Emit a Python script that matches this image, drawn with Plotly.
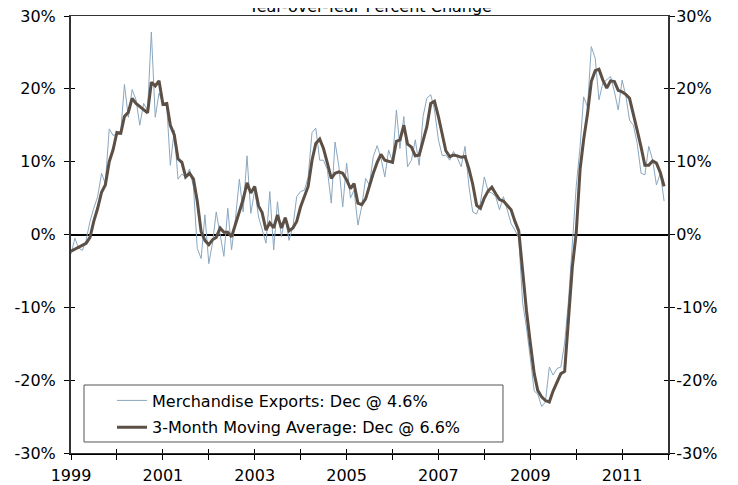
import plotly.graph_objects as go
import pandas as pd

RAW_COLOR = "#8aa7c0"
MA_COLOR = "#5c4f45"
AXIS_COLOR = "#000000"
FONT = "DejaVu Sans"

# meses: jan/1999 .. dez/2011
months = pd.date_range("1999-01-01", periods=156, freq="MS")

exports_yoy = [
    -2.7, -0.5, -1.8, -2.2, -0.8, 1.8, 3.6, 5.2, 8.4, 7.0, 14.5, 13.6,        # 1999
    13.8, 14.2, 20.6, 16.1, 19.9, 18.5, 15.0, 18.0, 17.0, 27.8, 16.1, 19.4,   # 2000
    18.0, 17.6, 9.5, 14.3, 7.6, 8.3, 7.8, 9.0, 6.5, -1.9, -3.3, 2.7,          # 2001
    -4.0, -1.0, 3.1, -0.3, -3.0, 3.6, -2.1, 2.2, 7.6, 3.1, 10.8, 2.9,         # 2002
    6.1, 2.4, 0.6, -1.2, 5.9, -2.1, 4.5, -0.3, 2.4, -0.8, 1.1, 5.2,           # 2003
    5.9, 6.1, 7.9, 14.0, 14.6, 10.2, 10.2, 8.9, 4.3, 12.7, 9.3, 3.8,          # 2004
    9.8, 5.0, 6.1, 1.3, 3.8, 7.7, 6.8, 10.7, 12.2, 10.5, 7.9, 11.6,           # 2005
    10.0, 17.1, 11.8, 16.2, 9.3, 10.2, 13.0, 9.5, 16.2, 18.7, 19.2, 17.1,     # 2006
    13.0, 10.8, 10.9, 10.2, 11.4, 10.5, 9.3, 12.1, 6.6, 3.1, 2.8, 4.3,        # 2007
    7.9, 5.9, 5.7, 5.2, 3.4, 5.2, 3.4, 1.5, 0.6, -0.5, -9.4, -12.7,           # 2008
    -17.0, -21.5, -21.9, -23.6, -23.0, -18.2, -19.3, -18.4, -18.2, -14.9, -9.0, -2.0,  # 2009
    6.6, 12.1, 18.9, 17.5, 25.8, 24.2, 18.5, 20.8, 21.2, 21.7, 19.6, 17.1,    # 2010
    21.2, 18.9, 15.7, 15.0, 12.5, 8.4, 8.2, 12.1, 10.2, 6.8, 8.4, 4.6,        # 2011
]

moving_avg_3m = [
    -2.3, -2.0, -1.7, -1.5, -1.2, -0.4, 1.8, 3.6, 5.8, 6.8, 10.0, 11.6,
    14.0, 13.9, 16.2, 16.8, 18.7, 18.0, 17.6, 17.2, 16.7, 20.9, 20.4, 21.1,
    17.9, 18.0, 15.0, 13.7, 10.4, 9.9, 7.9, 8.4, 7.6, 4.6, 0.4, -0.8,
    -1.4, -0.7, -0.4, 0.9, 0.3, 0.3, -0.3, 1.4, 3.0, 4.8, 7.1, 5.7,
    6.6, 3.9, 3.0, 0.6, 1.6, 0.9, 2.7, 0.9, 2.3, 0.5, 0.9, 1.8,
    3.8, 5.2, 6.6, 10.2, 12.5, 13.1, 11.8, 9.8, 7.7, 8.4, 8.6, 8.4,
    7.5, 6.3, 7.0, 4.3, 4.1, 4.9, 6.8, 8.4, 9.9, 11.0, 10.2, 10.0,
    9.9, 12.8, 13.0, 15.0, 12.4, 12.0, 10.8, 10.9, 12.9, 14.8, 18.0, 18.3,
    16.2, 13.5, 11.5, 10.7, 10.9, 10.8, 10.6, 10.7, 9.0, 6.9, 4.0, 3.6,
    5.0, 6.0, 6.5, 5.6, 4.8, 4.6, 4.0, 3.4, 1.8, 0.5, -5.0, -10.4,
    -14.9, -19.1, -21.4, -22.3, -22.8, -23.0, -21.5, -20.2, -19.1, -18.8, -11.0, -4.5,
    0.2, 9.0, 13.0, 16.6, 21.0, 22.5, 22.7, 21.2, 20.1, 21.1, 21.0, 19.8,
    19.6, 19.2, 18.7, 16.6, 14.3, 12.0, 9.5, 9.5, 10.1, 9.8, 8.5, 6.6,
]

year_ticks = [f"{y}-01-01" for y in range(1999, 2013)]
year_labels = [str(y) if y % 2 == 1 and y < 2012 else "" for y in range(1999, 2013)]
pct_ticks = [-30, -20, -10, 0, 10, 20, 30]
pct_labels = ["-30%", "-20%", "-10%", "0%", "10%", "20%", "30%"]

fig = go.Figure()
# série mensal no par de eixos principal (esquerda / baixo)
fig.add_trace(go.Scatter(
    x=months, y=exports_yoy, mode="lines", xaxis="x", yaxis="y",
    line=dict(color=RAW_COLOR, width=1),
    name="Merchandise Exports: Dec @ 4.6%", legendgroup="a",
))
# média móvel no par secundário (direita) -> permite ticks cruzados
fig.add_trace(go.Scatter(
    x=months, y=moving_avg_3m, mode="lines", xaxis="x2", yaxis="y2",
    line=dict(color=MA_COLOR, width=3),
    name="3-Month Moving Average: Dec @ 6.6%", legendgroup="b",
))

x_range = ["1999-01-01", "2012-01-01"]
common_x = dict(type="date", range=x_range, tickvals=year_ticks, showgrid=False,
                zeroline=False, fixedrange=True, automargin=False,
                ticklabeloverflow="allow")
common_y = dict(range=[-30, 30], tickvals=pct_ticks, ticktext=pct_labels,
                showgrid=False, fixedrange=True, automargin=False,
                ticklabeloverflow="allow")

# a página tem margem de 8px no body: figura um pouco menor que a janela
fig.update_layout(
    width=730, height=477,
    paper_bgcolor="white", plot_bgcolor="white",
    font=dict(family=FONT, size=16, color="#000000"),
    margin=dict(l=63, r=70, t=8, b=32, autoexpand=False),
    showlegend=True,
    legend=dict(
        x=0.0687, xanchor="left", y=0.159, yanchor="top",
        bgcolor="rgba(0,0,0,0)", borderwidth=0,
        tracegroupgap=3, font=dict(size=16),
    ),
    xaxis=dict(
        **common_x, ticktext=year_labels,
        ticks="outside", ticklen=5, tickcolor=AXIS_COLOR, ticklabelstandoff=2,
        showline=True, linecolor=AXIS_COLOR, linewidth=1.5,
    ),
    xaxis2=dict(
        **common_x, overlaying="x", anchor="y2", side="bottom",
        ticks="inside", ticklen=4, tickcolor=AXIS_COLOR, showticklabels=False,
        showline=True, mirror=True, linecolor="#333333", linewidth=1,
    ),
    yaxis=dict(
        **common_y, side="left", anchor="x",
        ticks="outside", ticklen=5, tickcolor=AXIS_COLOR, ticklabelstandoff=5,
        showline=True, mirror="ticks", linecolor=AXIS_COLOR, linewidth=2,
        zeroline=True, zerolinecolor=AXIS_COLOR, zerolinewidth=1.5,
    ),
    yaxis2=dict(
        **common_y, overlaying="y", side="right", anchor="x2",
        ticks="inside", ticklen=4, tickcolor=AXIS_COLOR, ticklabelstandoff=3,
        showline=True, mirror="ticks", linecolor="#333333", linewidth=2,
        zeroline=False,
    ),
    shapes=[dict(
        type="rect", xref="paper", yref="paper",
        x0=0.0218, x1=0.7236, y0=0.0252, y1=0.1556,
        line=dict(color="#555555", width=1), fillcolor="rgba(0,0,0,0)",
    )],
    annotations=[dict(
        text="Year-over-Year Percent Change", xref="paper", yref="paper",
        x=0.5, y=1, xanchor="center", yanchor="bottom", yshift=-2,
        showarrow=False, font=dict(size=16),
    )],
)

fig.write_html("out.html")
